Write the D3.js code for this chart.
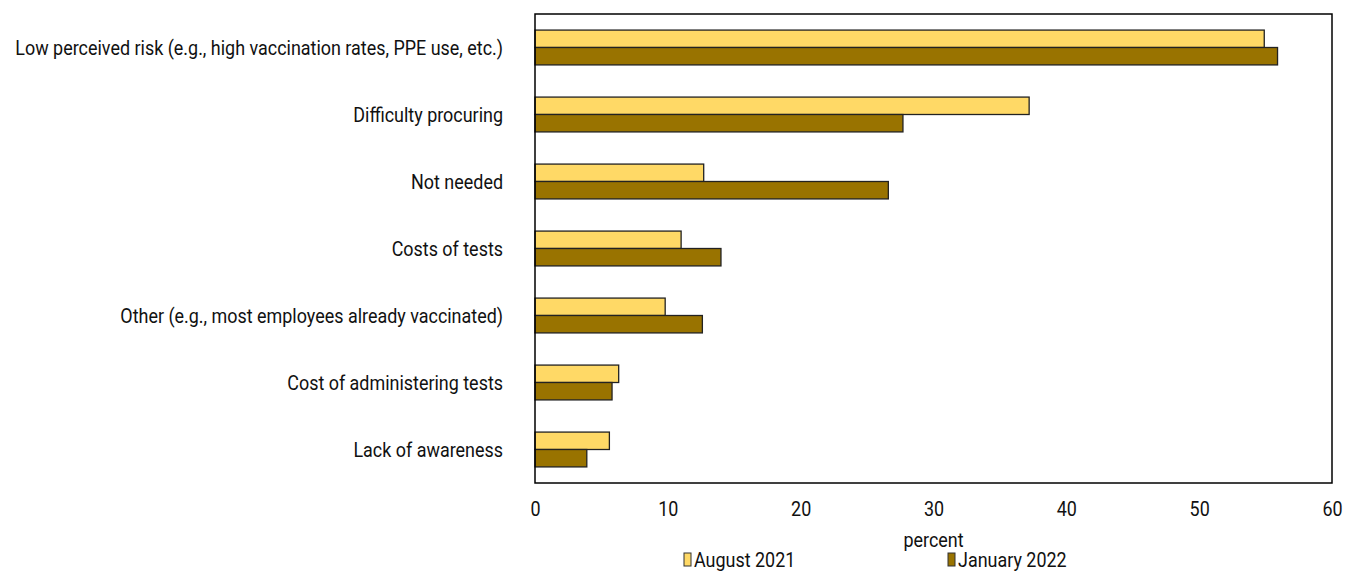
<!DOCTYPE html>
<html>
<head>
<meta charset="utf-8">
<script src="https://cdn.jsdelivr.net/npm/d3@7"></script>
<style>
  body { margin: 0; background: #fff; }
  svg text { font-family: Roboto, "Liberation Sans", sans-serif; }
</style>
</head>
<body>
<svg></svg>
<script>
const categories = [
  "Low perceived risk (e.g., high vaccination rates, PPE use, etc.)",
  "Difficulty procuring",
  "Not needed",
  "Costs of tests",
  "Other (e.g., most employees already vaccinated)",
  "Cost of administering tests",
  "Lack of awareness"
];
const seriesNames = ["August 2021", "January 2022"];
const aug2021 = [54.9, 37.2, 12.7, 11.0, 9.8, 6.3, 5.6];
const jan2022 = [55.9, 27.7, 26.6, 14.0, 12.6, 5.8, 3.9];
const xTicks = [0, 10, 20, 30, 40, 50, 60];
const colors = ["#FFD966", "#997300"];

const margin = {top: 14, right: 24, bottom: 89, left: 535},
      W = 1356, H = 572,
      width = W - margin.left - margin.right,
      height = H - margin.top - margin.bottom,
      fs = 20;

const svg = d3.select("svg").attr("width", W).attr("height", H);
const chart = svg.append("g")
  .attr("transform", "translate(" + margin.left + "," + margin.top + ")");

// condensed look: measure the longest label and squeeze all text horizontally
const probe = svg.append("text").attr("font-size", fs).text(categories[0]);
const sx = Math.min(1, 488 / probe.node().getComputedTextLength());
probe.remove();

const x = d3.scaleLinear().domain([0, 60]).range([0, width]);
const y = d3.scaleBand().domain(categories).range([0, height]).paddingInner(0.48).paddingOuter(0.24);
const ySub = d3.scaleBand().domain([0, 1]).range([0, y.bandwidth()]);

const rows = categories.map((c, i) => ({cat: c, vals: [aug2021[i], jan2022[i]]}));

// bars
const groups = chart.selectAll(".grp")
  .data(rows)
  .enter().append("g")
  .attr("transform", d => "translate(0," + y(d.cat) + ")");

groups.selectAll("rect")
  .data(d => d.vals.map((v, k) => ({v, k})))
  .enter().append("rect")
  .attr("x", x(0))
  .attr("y", d => ySub(d.k))
  .attr("width", d => x(d.v) - x(0))
  .attr("height", ySub.bandwidth())
  .attr("fill", d => colors[d.k])
  .attr("stroke", "#222")
  .attr("stroke-width", 1.3);

// frame
chart.append("rect")
  .attr("width", width).attr("height", height)
  .attr("fill", "none").attr("stroke", "#000").attr("stroke-width", 1.5);

// category labels
chart.selectAll(".cat")
  .data(categories)
  .enter().append("text")
  .attr("transform", d => "translate(-32," + (y(d) + y.bandwidth() / 2) + ") scale(" + sx + ",1)")
  .attr("dy", "0.35em")
  .attr("text-anchor", "end")
  .attr("font-size", fs)
  .attr("fill", "#111")
  .text(d => d);

// x axis
const xAxis = chart.append("g")
  .attr("transform", "translate(0," + height + ")")
  .call(d3.axisBottom(x).tickValues(xTicks).tickSize(0).tickPadding(19));
xAxis.select(".domain").remove();
xAxis.selectAll("text")
  .attr("font-size", fs).attr("fill", "#111").attr("font-family", null)
  .attr("transform", "scale(" + sx + ",1)");

chart.append("text")
  .attr("transform", "translate(" + x(30) + "," + (height + 64) + ") scale(" + sx + ",1)")
  .attr("text-anchor", "middle")
  .attr("font-size", fs)
  .attr("fill", "#111")
  .text("percent");

// legend
const legendX = [684, 948];
const legend = svg.selectAll(".leg")
  .data(seriesNames)
  .enter().append("g")
  .attr("transform", (d, i) => "translate(" + legendX[i] + ",553)");
legend.append("rect")
  .attr("width", 7).attr("height", 13)
  .attr("fill", (d, i) => colors[i])
  .attr("stroke", "#333").attr("stroke-width", 1);
legend.append("text")
  .attr("transform", "translate(10,14) scale(" + sx + ",1)")
  .attr("font-size", fs)
  .attr("fill", "#111")
  .text(d => d);
</script>
</body>
</html>
